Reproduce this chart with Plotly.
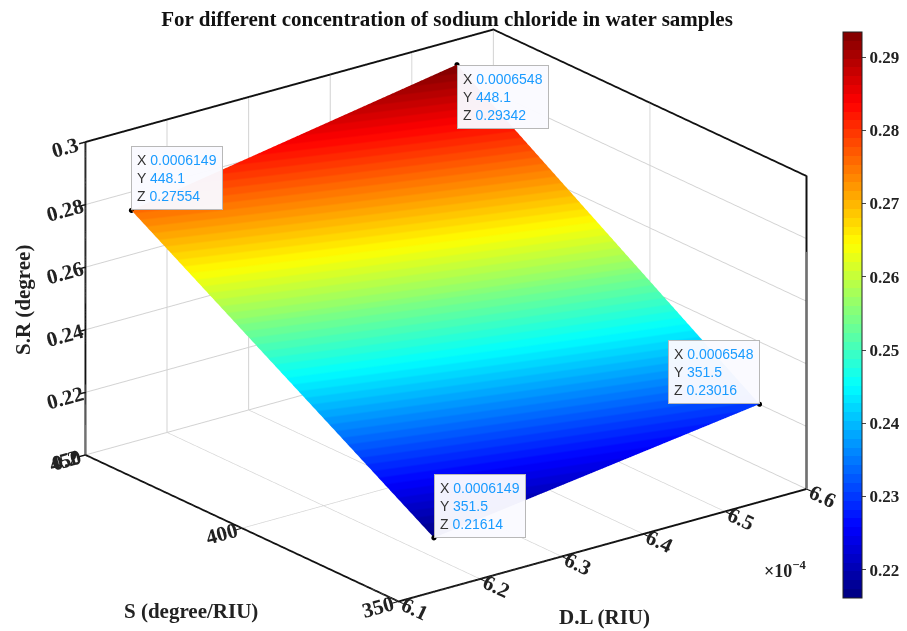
import numpy as np
import plotly.graph_objects as go

# ---- data ----
dl_values = [0.0006149, 0.0006548]          # D.L (RIU)
s_values = [351.5, 448.1]                    # S (degree/RIU)
sr_values = [[0.21614, 0.23016],             # rows: S, cols: D.L
             [0.27554, 0.29342]]
x_ticks = [6.1e-4, 6.2e-4, 6.3e-4, 6.4e-4, 6.5e-4, 6.6e-4]
x_ticklabels = ["6.1", "6.2", "6.3", "6.4", "6.5", "6.6"]
y_ticks = [350, 400, 450]
z_ticks = [0.2, 0.22, 0.24, 0.26, 0.28, 0.3]
z_ticklabels = ["0.2", "0.22", "0.24", "0.26", "0.28", "0.3"]
cb_ticks = [0.22, 0.23, 0.24, 0.25, 0.26, 0.27, 0.28, 0.29]

# ---- MATLAB jet colormap (stepped) ----
def jet(t):
    r = np.clip(1.5 - abs(4 * t - 3), 0, 1)
    g = np.clip(1.5 - abs(4 * t - 2), 0, 1)
    b = np.clip(1.5 - abs(4 * t - 1), 0, 1)
    return "rgb(%d,%d,%d)" % (round(r * 255), round(g * 255), round(b * 255))

N = 64
cscale = []
for i in range(N):
    c = jet((i + 0.5) / N)
    cscale.append([i / N, c])
    cscale.append([(i + 1) / N, c])

z = np.array(sr_values)
fig = go.Figure()
fig.add_trace(go.Surface(
    x=dl_values, y=s_values, z=z,
    surfacecolor=z,
    colorscale=cscale, cmin=z.min(), cmax=z.max(),
    lighting=dict(ambient=1.0, diffuse=0.0, specular=0.0, roughness=1.0, fresnel=0.0),
    showscale=True,
    colorbar=dict(
        x=843 / 907, xanchor="left", y=1 - 32 / 631, yanchor="top",
        len=566, lenmode="pixels", thickness=19, ypad=0, xpad=0,
        tickvals=cb_ticks, ticks="outside", ticklen=4,
        tickfont=dict(family="Liberation Serif", size=17, color="#222", weight="bold"),
        outlinecolor="#222", outlinewidth=1,
    ),
    hoverinfo="skip",
))

# corner points
px, py, pz = [], [], []
for j, yv in enumerate(s_values):
    for i, xv in enumerate(dl_values):
        px.append(xv); py.append(yv); pz.append(sr_values[j][i])
fig.add_trace(go.Scatter3d(x=px, y=py, z=pz, mode="markers",
                           marker=dict(size=3, color="black"), showlegend=False, hoverinfo="skip"))

blue = "#1a9bff"
def tip(xv, yv, zv, xanchor, yanchor):
    xs = ("%.7f" % xv).rstrip("0")
    txt = ("X <span style='color:%s'>%s</span><br>Y <span style='color:%s'>%s</span><br>"
           "Z <span style='color:%s'>%s</span>") % (blue, xs, blue, ("%g" % yv), blue, ("%g" % zv))
    return dict(x=xv, y=yv, z=zv, text=txt, showarrow=False, xanchor=xanchor, yanchor=yanchor,
                align="left", bgcolor="rgba(250,250,255,0.97)", bordercolor="#b8b8b8", borderwidth=1,
                borderpad=5, font=dict(family="Liberation Sans", size=14, color="#333"))

anns = [
    tip(dl_values[0], s_values[1], sr_values[1][0], "left", "bottom"),
    tip(dl_values[1], s_values[1], sr_values[1][1], "left", "top"),
    tip(dl_values[1], s_values[0], sr_values[0][1], "right", "bottom"),
    tip(dl_values[0], s_values[0], sr_values[0][0], "left", "bottom"),
]

axfont = dict(family="Liberation Serif", size=16, color="#222", weight="bold")
titlefont = dict(family="Liberation Serif", size=21, color="#222", weight="bold")
common = dict(showbackground=False, showgrid=True, gridcolor="#d2d2d2", gridwidth=2,
              showline=True, linecolor="#111", linewidth=4, mirror=True,
              ticks="outside", ticklen=8, tickcolor="#111", tickwidth=3,
              tickfont=axfont, zeroline=False, showspikes=False, title=dict(text=""))

R = 1.12
K = 1.63
fig.update_layout(
    width=907, height=631,
    margin=dict(l=0, r=0, t=0, b=0),
    paper_bgcolor="white",
    showlegend=False,
    title=dict(text="For different concentration of sodium chloride in water samples",
               x=447 / 907, xanchor="center", y=1 - 19 / 631, yanchor="middle",
               font=dict(family="Liberation Serif", size=21, color="#111", weight="bold")),
    scene=dict(
        domain=dict(x=[0.0, 0.984], y=[0.0, 1.0]),
        xaxis=dict(range=[6.1e-4, 6.6e-4], tickvals=x_ticks, ticktext=x_ticklabels, **common),
        yaxis=dict(range=[350, 450], tickvals=y_ticks, **common),
        zaxis=dict(range=[0.2, 0.3], tickvals=z_ticks, ticktext=z_ticklabels, **common),
        aspectmode="manual", aspectratio=dict(x=1 * K, y=1 * K, z=0.652 * K),
        camera=dict(eye=dict(x=-0.568 * R, y=-0.740 * R, z=0.359 * R),
                    center=dict(x=0, y=0, z=0),
                    projection=dict(type="orthographic")),
        annotations=anns,
    ),
    annotations=[
        dict(text="×10<sup>−4</sup>", x=785 / 907, y=1 - 569 / 631, xref="paper", yref="paper",
             xanchor="center", yanchor="middle",
             showarrow=False, font=dict(family="Liberation Serif", size=18, color="#222", weight="bold")),
        dict(text="D.L (RIU)", x=604 / 907, y=1 - 617 / 631, xref="paper", yref="paper",
             xanchor="center", yanchor="middle", showarrow=False, font=titlefont),
        dict(text="S (degree/RIU)", x=191 / 907, y=1 - 611 / 631, xref="paper", yref="paper",
             xanchor="center", yanchor="middle", showarrow=False, font=titlefont),
        dict(text="S.R (degree)", x=23 / 907, y=1 - 300 / 631, xref="paper", yref="paper",
             xanchor="center", yanchor="middle", showarrow=False, textangle=-90, font=titlefont),
    ],
)

fig.write_html("out.html")
